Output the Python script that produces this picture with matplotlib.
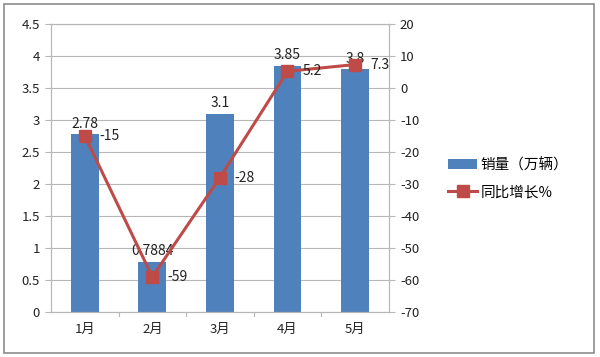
import matplotlib
matplotlib.use("Agg")
import matplotlib.pyplot as plt
from matplotlib.patches import Rectangle

plt.rcParams['font.family'] = ['Noto Sans CJK SC', 'DejaVu Sans']
plt.rcParams['axes.unicode_minus'] = False

categories = ['1月', '2月', '3月', '4月', '5月']
sales = [2.78, 0.7884, 3.1, 3.85, 3.8]
sales_labels = ['2.78', '0.7884', '3.1', '3.85', '3.8']
growth = [-15, -59, -28, 5.2, 7.3]
growth_labels = ['-15', '-59', '-28', '5.2', '7.3']

fig = plt.figure(figsize=(6, 3.57), dpi=100)
fig.patches.append(Rectangle((0.007, 0.012), 0.983, 0.978, transform=fig.transFigure,
                             fill=False, edgecolor='#8c8c8c', linewidth=1.2))
ax = fig.add_axes([0.085, 0.126, 0.563, 0.807])
ax2 = ax.twinx()

x = list(range(len(categories)))
bar_color = '#4F81BD'
line_color = '#BE4B48'
grid_color = '#b7b7b7'
fs = 9.5

ax.bar(x, sales, width=0.41, color=bar_color, zorder=2, label='销量（万辆）')
ax.set_ylim(0, 4.5)
ax.set_yticks([i * 0.5 for i in range(10)])
ax.set_yticklabels(['0', '0.5', '1', '1.5', '2', '2.5', '3', '3.5', '4', '4.5'])
ax.set_xlim(-0.5, 4.5)
ax.set_xticks(x)
ax.set_xticklabels(categories)
ax.grid(axis='y', color=grid_color, linewidth=0.8, zorder=0)
ax.set_axisbelow(True)

ax2.plot(x, growth, color=line_color, linewidth=2.2, marker='s', markersize=8, zorder=3,
         label='同比增长%')
ax2.set_ylim(-70, 20)
ax2.set_yticks(list(range(-70, 21, 10)))

for a in (ax, ax2):
    for s in a.spines.values():
        s.set_color(grid_color)
        s.set_linewidth(0.8)
    a.tick_params(axis='both', colors=grid_color, labelcolor='#222222', labelsize=fs,
                  length=4.5, width=0.8)
ax.tick_params(axis='x', length=0, pad=8)
# category separator ticks
for b in [0.5, 1.5, 2.5, 3.5]:
    ax.plot([b, b], [0, -0.07], color=grid_color, linewidth=0.8, clip_on=False)

for xi, v, lab in zip(x, sales, sales_labels):
    ax.text(xi, v + 0.05, lab, ha='center', va='bottom', fontsize=10, color='#222222', zorder=5)
for xi, v, lab in zip(x, growth, growth_labels):
    ax2.text(xi + 0.22, v, lab, ha='left', va='center', fontsize=10, color='#222222', zorder=5)

h1, l1 = ax.get_legend_handles_labels()
h2, l2 = ax2.get_legend_handles_labels()
fig.legend(h1 + h2, l1 + l2, loc='center left', bbox_to_anchor=(0.725, 0.5),
           frameon=False, fontsize=10.5, handlelength=2.0, labelspacing=0.9, handletextpad=0.2)

fig.savefig('out.png', dpi=100)
